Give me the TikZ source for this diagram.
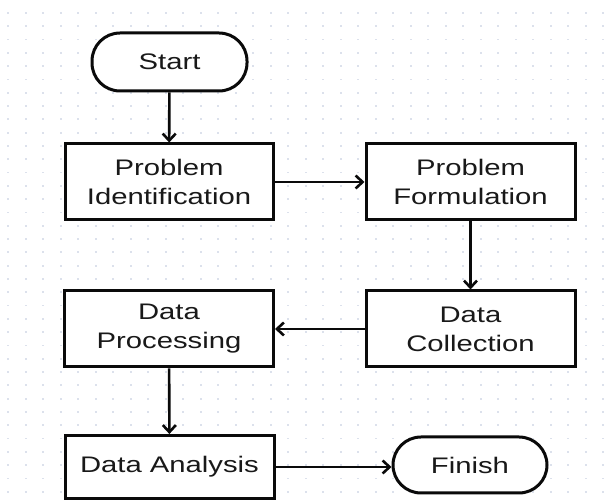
\documentclass[tikz,border=0pt]{standalone}
\usepackage{fontspec}
\setmainfont{Liberation Sans}[FakeStretch=1.3]
\usepackage{xcolor}
\usepackage{tikz}
\usetikzlibrary{
  arrows.meta,
  positioning
}
\definecolor{gridgrey}{RGB}{220, 225, 236}
\definecolor{inkgrey}{RGB}{25, 25, 25}
\definecolor{linegrey}{RGB}{10, 10, 10}

\begin{document}
\begin{tikzpicture}[x=1pt, y=1pt,
  terminal/.style={draw=linegrey, line width=3pt, fill=white, rectangle,
    rounded corners=28pt, inner sep=0pt, text=inkgrey,
    font=\fontsize{22.5}{29}\selectfont},
  stepbox/.style={draw=linegrey, line width=3pt, fill=white, rectangle,
    inner sep=0pt, align=center, text=inkgrey,
    font=\fontsize{22.5}{29}\selectfont},
  flow/.style={line width=2.6pt, linegrey, -{Straight Barb[length=7pt, width=13pt, line width=2.6pt]}}]
  % ---------- background: page and dot grid ----------
  \fill[white] (0, 0) rectangle (606, 500);
  \useasboundingbox (0, 0) rectangle (606, 500);
  \foreach \i in {0, ..., 34} {
    \foreach \j in {0, ..., 36} {
      \fill[gridgrey] (8 + 17.5*\i - 1, 487 - 13.3*\j - 0.9) rectangle ++(2.2, 1.8);
    }
  }
  % ---------- LEFT COLUMN ----------
  \node[terminal, minimum width=155, minimum height=58] (start) at (169.5, 438) {Start};
  \node[stepbox, minimum width=208, minimum height=76] (ident) at (169, 318) {Problem\\Identification};
  \node[stepbox, minimum width=209, minimum height=76] (process) at (169, 171) {Data\\Processing};
  \node[stepbox, minimum width=209, minimum height=63] (analysis) at (169.5, 33) {Data Analysis};
  % ---------- RIGHT COLUMN ----------
  \node[terminal, minimum width=154, minimum height=56] (finish) at (470, 35) {Finish};
  \node[stepbox, minimum width=209, minimum height=76] (formul) at (470.5, 318) {Problem\\Formulation};
  \node[stepbox, minimum width=209, minimum height=76] (collect) at (470.5, 171) {Data\\Collection};
  % ---------- connectors ----------
  \draw[flow] (start) -- (ident);
  \draw[flow] (ident) -- (formul);
  \draw[flow] (formul) -- (collect);
  \draw[flow] (collect) -- (process);
  \draw[flow] (process) -- (analysis);
  \draw[flow] (analysis.east) -- (analysis.east -| finish.west);
\end{tikzpicture}
\end{document}
